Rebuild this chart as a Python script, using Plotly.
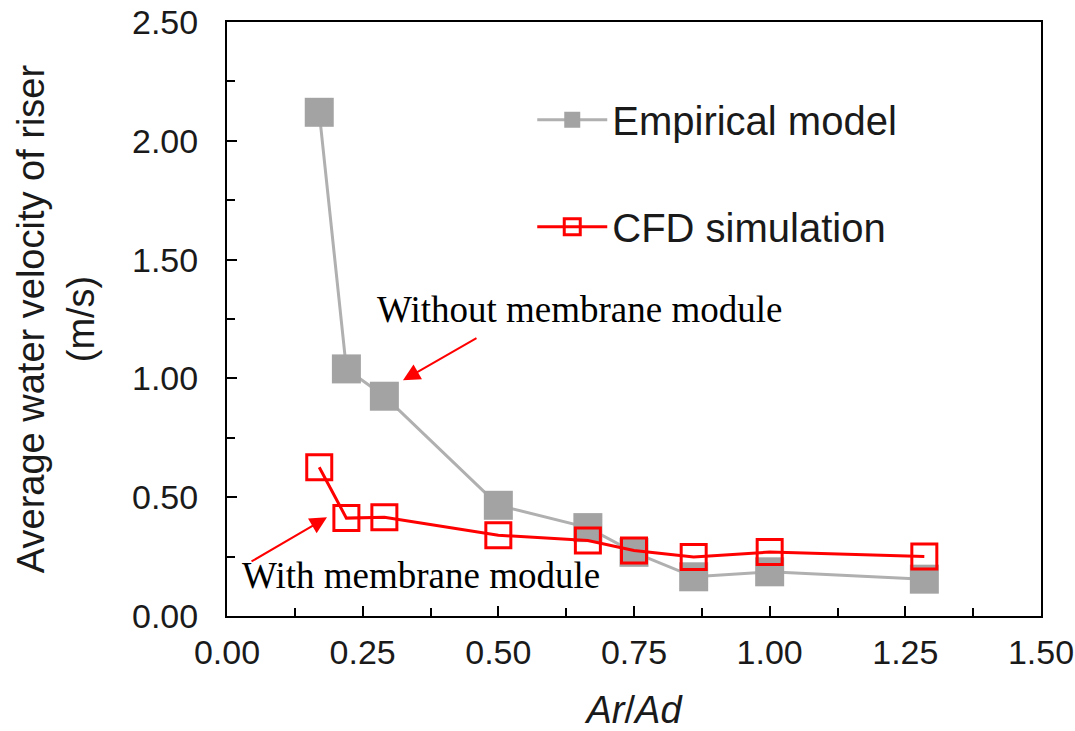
import plotly.graph_objects as go

# ---- data ----
ratio_x = [0.17, 0.22, 0.29, 0.50, 0.665, 0.75, 0.86, 1.00, 1.285]
empirical = [2.12, 1.04, 0.925, 0.466, 0.372, 0.268, 0.165, 0.186, 0.155]
cfd = [0.626, 0.412, 0.416, 0.340, 0.318, 0.276, 0.248, 0.269, 0.250]

x_ticks = [0.00, 0.25, 0.50, 0.75, 1.00, 1.25, 1.50]
y_ticks = [0.00, 0.50, 1.00, 1.50, 2.00, 2.50]

SANS = "Liberation Sans, Arial, sans-serif"
SERIF = "Liberation Serif, Times New Roman, serif"
TXT = "#1a1a1a"

fig = go.Figure()
fig.add_trace(go.Scatter(
    x=ratio_x, y=empirical, mode="lines+markers", name="Empirical model",
    legendgroup="a",
    line=dict(color="#b0b0b0", width=3),
    marker=dict(symbol="square", size=29, color="#a3a3a3", line=dict(width=0)),
))
fig.add_trace(go.Scatter(
    x=ratio_x, y=cfd, mode="lines+markers", name="CFD simulation",
    legendgroup="b",
    line=dict(color="#ff0000", width=3),
    marker=dict(symbol="square-open", size=25, color="#ff0000", line=dict(width=3, color="#ff0000")),
))

axis_common = dict(
    showgrid=False, zeroline=False,
    showline=True, linecolor="black", linewidth=2, mirror=True,
    ticks="inside", ticklen=10, tickwidth=2, tickcolor="black",
    tickfont=dict(family=SANS, size=34, color=TXT),
    tickformat=".2f",
)

fig.update_xaxes(
    range=[0, 1.5], tickmode="array", tickvals=x_ticks,
    minor=dict(ticks="inside", ticklen=8, tickwidth=2, tickcolor="black", dtick=0.125, tick0=0),
    title=dict(text="<i>Ar</i>/<i>Ad</i>", font=dict(family=SANS, size=38, color=TXT), standoff=32),
    ticklabelstandoff=5,
    **axis_common,
)
fig.update_yaxes(
    range=[0, 2.5], tickmode="array", tickvals=y_ticks,
    minor=dict(ticks="inside", ticklen=8, tickwidth=2, tickcolor="black", dtick=0.25, tick0=0),
    title=dict(text="Average water velocity of riser<br>(m/s)", font=dict(family=SANS, size=38, color=TXT), standoff=26),
    ticklabelstandoff=20,
    **axis_common,
)

fig.add_annotation(x=0.65, y=1.29, xref="x", yref="y", text="Without membrane module",
                   showarrow=False, font=dict(family=SERIF, size=37, color="black"))
fig.add_annotation(x=0.357, y=0.171, xref="x", yref="y", text="With membrane module",
                   showarrow=False, font=dict(family=SERIF, size=37, color="black"))
fig.add_annotation(x=0.3243, y=0.9924, xref="x", yref="y", text="", showarrow=True,
                   ax=75, ay=-43, arrowhead=2, arrowsize=1.7, arrowwidth=2, arrowcolor="#ff0000", standoff=0)
fig.add_annotation(x=0.1843, y=0.4153, xref="x", yref="y", text="", showarrow=True,
                   ax=-77, ay=45, arrowhead=2, arrowsize=1.7, arrowwidth=2, arrowcolor="#ff0000", standoff=0)

fig.update_layout(
    width=1075, height=731,
    margin=dict(l=227, r=34, t=22, b=115, autoexpand=False),
    paper_bgcolor="white", plot_bgcolor="white",
    showlegend=True,
    legend=dict(x=0.375, y=0.89, xanchor="left", yanchor="top",
                bgcolor="rgba(0,0,0,0)", borderwidth=0,
                font=dict(family=SANS, size=40, color=TXT),
                tracegroupgap=52, itemsizing="trace", itemwidth=70),
)

fig.write_html("out.html")
